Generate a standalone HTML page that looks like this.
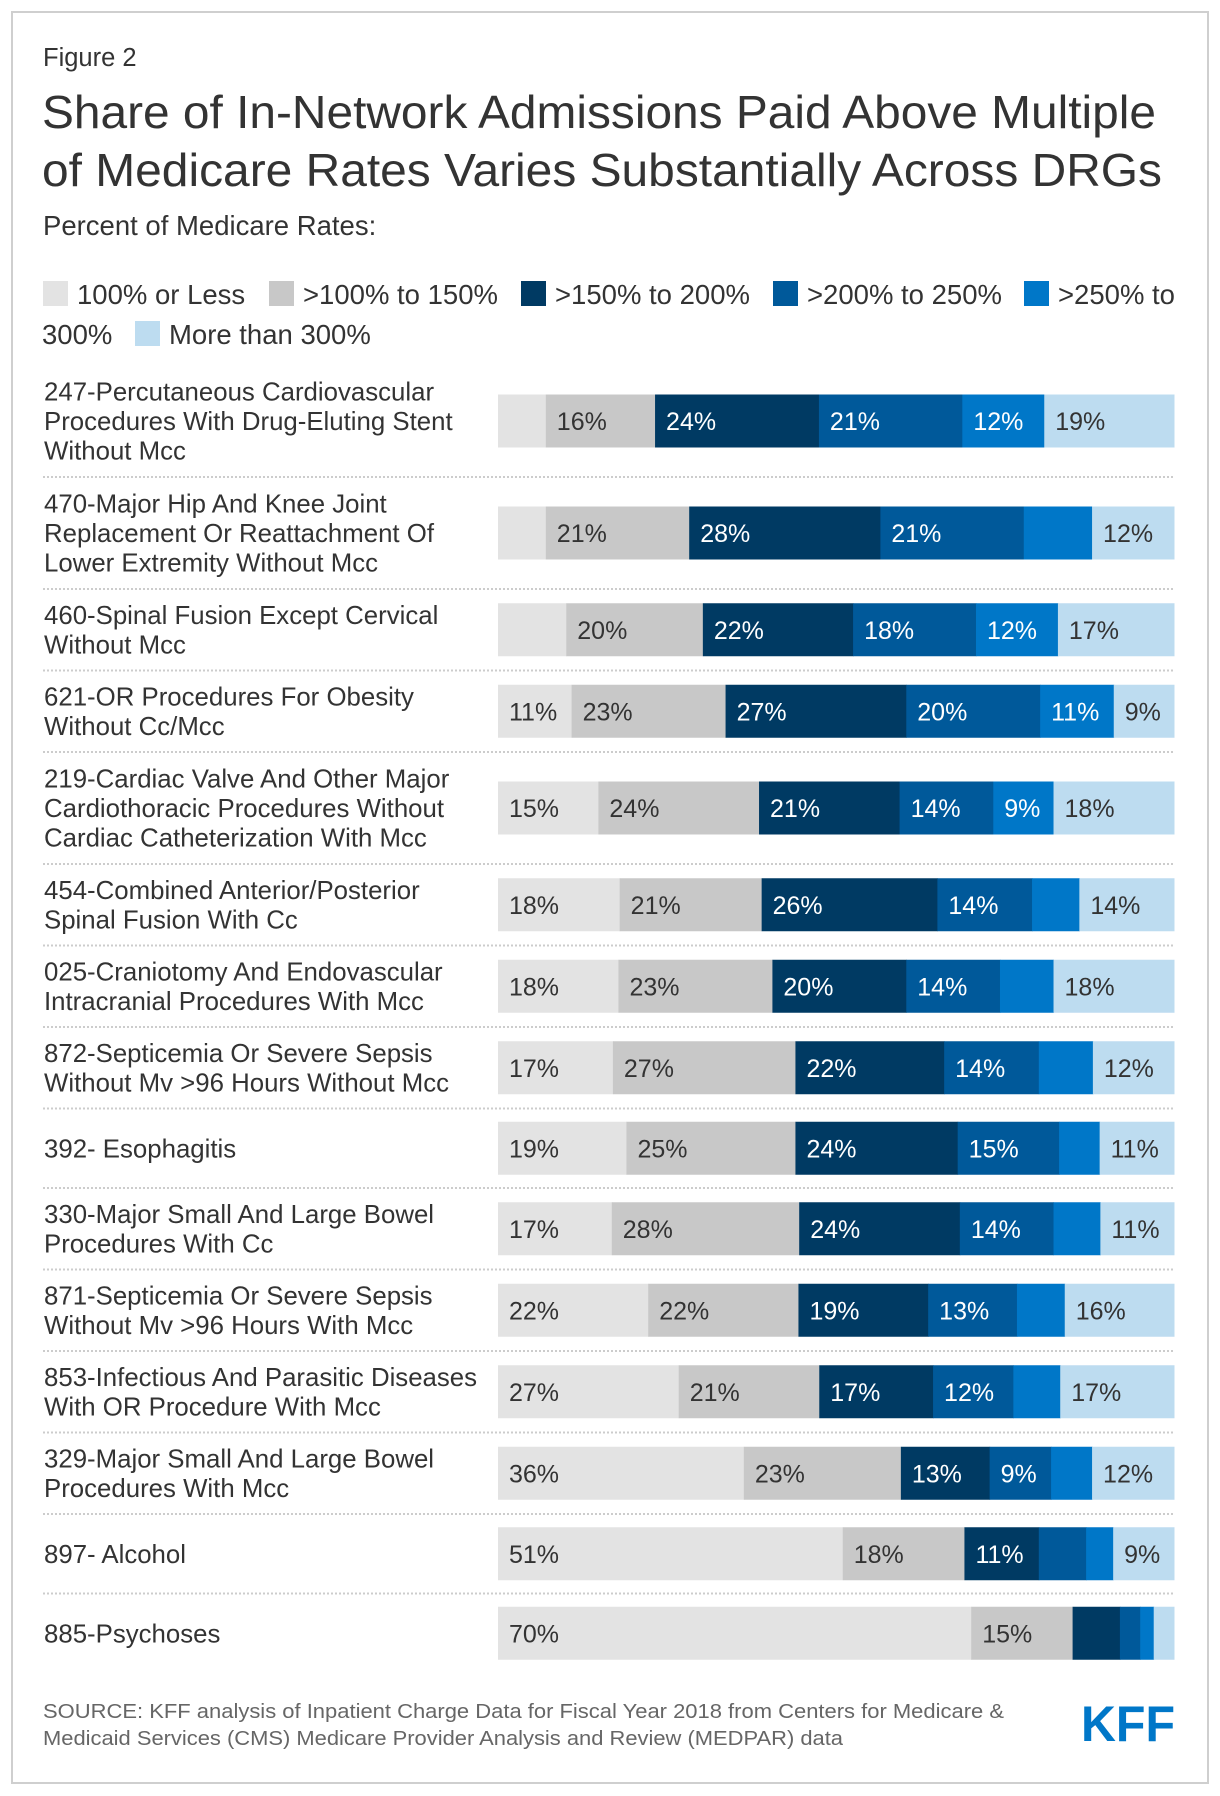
<!DOCTYPE html>
<html><head><meta charset="utf-8"><style>
html,body{margin:0;padding:0;background:#fff;}
svg{display:block;font-family:"Liberation Sans",Arial,sans-serif;}
</style></head><body>
<svg id="chart" width="1220" height="1796" viewBox="0 0 1220 1796">
<rect x="12" y="12" width="1196" height="1771" fill="#fff" stroke="#cfcfcf" stroke-width="2"/>
<text x="43" y="66" font-size="25.5" fill="#333">Figure 2</text>
<text x="42" y="128" font-size="46" fill="#333" textLength="1114" lengthAdjust="spacingAndGlyphs">Share of In-Network Admissions Paid Above Multiple</text>
<text x="42" y="186" font-size="46" fill="#333" textLength="1120" lengthAdjust="spacingAndGlyphs">of Medicare Rates Varies Substantially Across DRGs</text>
<text x="43" y="235" font-size="27.5" fill="#333">Percent of Medicare Rates:</text>
<g id="legend"></g>
<g id="rows"></g>
<text x="43" y="1718" font-size="20" fill="#666" textLength="961" lengthAdjust="spacingAndGlyphs">SOURCE: KFF analysis of Inpatient Charge Data for Fiscal Year 2018 from Centers for Medicare &amp;</text>
<text x="43" y="1745" font-size="20" fill="#666" textLength="800" lengthAdjust="spacingAndGlyphs">Medicaid Services (CMS) Medicare Provider Analysis and Review (MEDPAR) data</text>
<text x="1081" y="1741" font-size="50" font-weight="bold" fill="#0077c8" textLength="94" lengthAdjust="spacingAndGlyphs">KFF</text>
</svg>
<script>
const seriesNames = ["100% or Less", ">100% to 150%", ">150% to 200%", ">200% to 250%", ">250% to 300%", "More than 300%"];
const categories = [
 ["247-Percutaneous Cardiovascular","Procedures With Drug-Eluting Stent","Without Mcc"],
 ["470-Major Hip And Knee Joint","Replacement Or Reattachment Of","Lower Extremity Without Mcc"],
 ["460-Spinal Fusion Except Cervical","Without Mcc"],
 ["621-OR Procedures For Obesity","Without Cc/Mcc"],
 ["219-Cardiac Valve And Other Major","Cardiothoracic Procedures Without","Cardiac Catheterization With Mcc"],
 ["454-Combined Anterior/Posterior","Spinal Fusion With Cc"],
 ["025-Craniotomy And Endovascular","Intracranial Procedures With Mcc"],
 ["872-Septicemia Or Severe Sepsis","Without Mv >96 Hours Without Mcc"],
 ["392- Esophagitis"],
 ["330-Major Small And Large Bowel","Procedures With Cc"],
 ["871-Septicemia Or Severe Sepsis","Without Mv >96 Hours With Mcc"],
 ["853-Infectious And Parasitic Diseases","With OR Procedure With Mcc"],
 ["329-Major Small And Large Bowel","Procedures With Mcc"],
 ["897- Alcohol"],
 ["885-Psychoses"]
];
const s100 = [7,7,10,11,15,18,18,17,19,17,22,27,36,51,70];
const s150 = [16,21,20,23,24,21,23,27,25,28,22,21,23,18,15];
const s200 = [24,28,22,27,21,26,20,22,24,24,19,17,13,11,7];
const s250 = [21,21,18,20,14,14,14,14,15,14,13,12,9,7,3];
const s300 = [12,10,12,11,9,7,8,8,6,7,7,7,6,4,2];
const s300p = [19,12,17,9,18,14,18,12,11,11,16,17,12,9,3];
const labelled = [
 [0,1,1,1,1,1],[0,1,1,1,0,1],[0,1,1,1,1,1],[1,1,1,1,1,1],[1,1,1,1,1,1],
 [1,1,1,1,0,1],[1,1,1,1,0,1],[1,1,1,1,0,1],[1,1,1,1,0,1],[1,1,1,1,0,1],
 [1,1,1,1,0,1],[1,1,1,1,0,1],[1,1,1,1,0,1],[1,1,1,0,0,1],[1,1,0,0,0,0]
];
const colors = ["#e3e3e3","#c8c8c8","#003a63","#00599a","#0077c8","#bddcf0"];
const textColors = ["#333","#333","#fff","#fff","#fff","#333"];
const NS = "http://www.w3.org/2000/svg";
function mk(tag, attrs, parent){const e=document.createElementNS(NS,tag);for(const k in attrs)e.setAttribute(k,attrs[k]);parent.appendChild(e);return e;}

const legend=document.getElementById('legend');
const legPos=[[43,294],[269,294],[521,294],[773,294],[1024,294],[135,334]];
legPos.forEach((p,i)=>{
  const r=mk('rect',{x:p[0],y:p[1]-13,width:25,height:25,fill:colors[i]},legend);
  
  
  const t=mk('text',{x:p[0]+34,y:p[1]+10,'font-size':27.5,fill:'#333'},legend);
  t.textContent = i===4 ? ">250% to" : seriesNames[i];
  
  
});
const wrapT=mk('text',{x:42,y:344,'font-size':27.5,fill:'#333'},legend);
wrapT.textContent="300%";



const rows=document.getElementById('rows');
const series=[s100,s150,s200,s250,s300,s300p];
const x0=498, x1=1174, barH=53;
const rowH={1:79.5,2:81.5,3:112};
function xScale(v,total){return (x1-x0)*v/total;}
let yTop=365;
categories.forEach((lines,ri)=>{
  const h=rowH[lines.length];
  const cy=yTop+h/2;
  const g=mk('g',{},rows);
  
  
  lines.forEach((ln,li)=>{
    const t=mk('text',{x:44,y:cy+(li-(lines.length-1)/2)*29.7+9,'font-size':25.8,fill:'#333'},g);
    t.textContent=ln;
    
    
  });
  const total=series.reduce((a,s)=>a+s[ri],0);
  let cx=x0;
  series.forEach((s,si)=>{
    const w=xScale(s[ri],total);
    const r=mk('rect',{x:cx,y:cy-barH/2,width:w+0.5,height:barH,fill:colors[si]},g);
    
    
    if(labelled[ri][si]){
      const t=mk('text',{x:cx+11,y:cy+9,'font-size':25,fill:textColors[si]},g);
      t.textContent=s[ri]+'%';
      
      
    }
    cx+=w;
  });
  yTop+=h;
  if(ri<categories.length-1){
    const l=mk('line',{x1:43,x2:x1,y1:yTop,y2:yTop,stroke:'#ccc','stroke-width':2,'stroke-dasharray':'2,2'},rows);
    
    
  }
});
</script>
</body></html>
